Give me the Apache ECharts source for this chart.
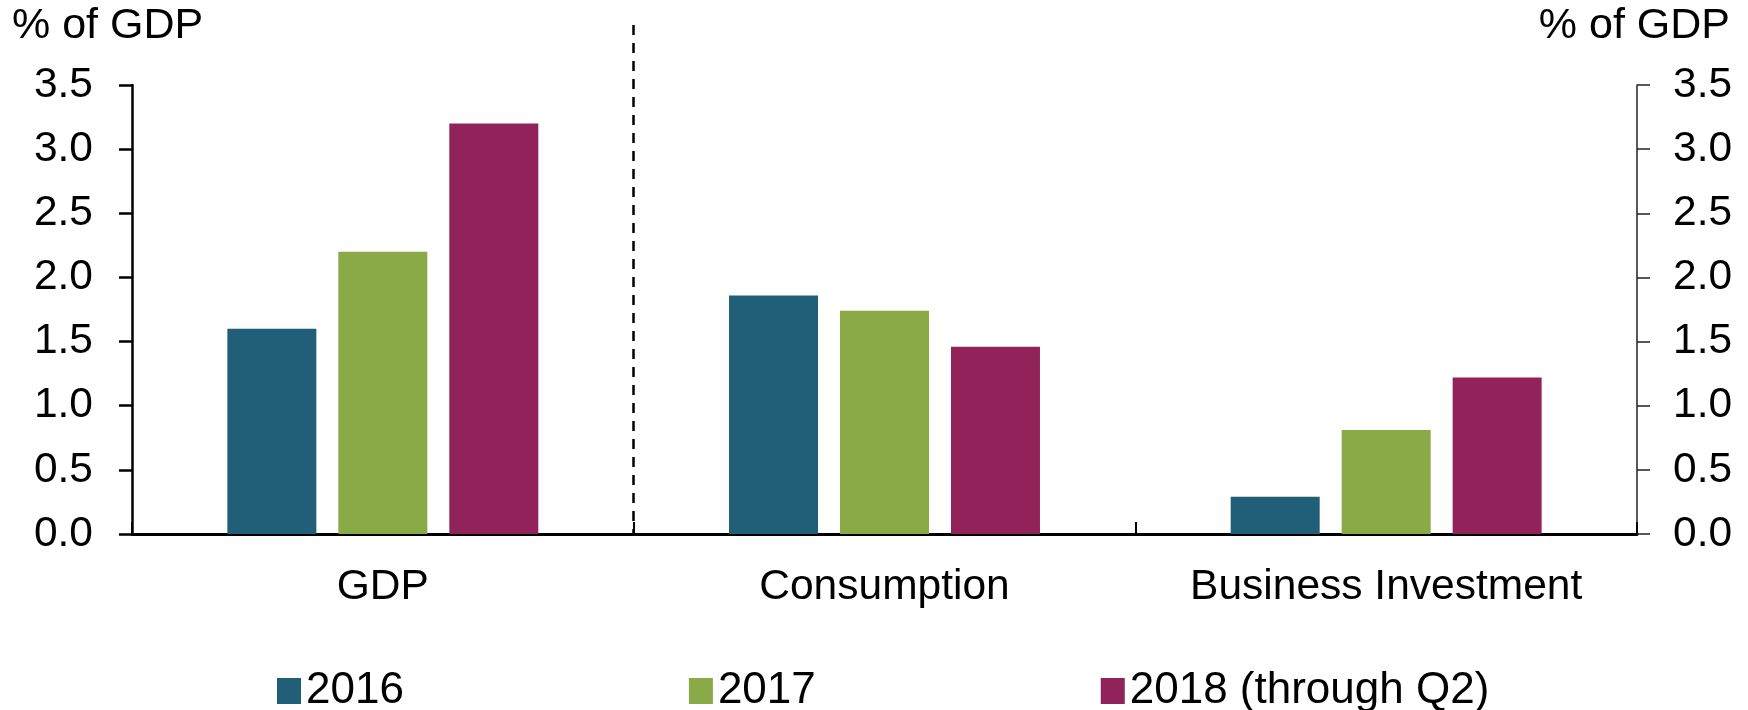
<!DOCTYPE html>
<html>
<head>
<meta charset="utf-8">
<script src="https://cdn.jsdelivr.net/npm/echarts@6/dist/echarts.min.js"></script>
<style>
  html, body { margin: 0; padding: 0; background: #ffffff; }
  #chart { width: 1748px; height: 710px; }
</style>
</head>
<body>
<div id="chart"></div>
<script>
// Contributions, % of GDP
const categories = ['GDP', 'Consumption', 'Business Investment'];
const seriesNames = ['2016', '2017', '2018 (through Q2)'];
const values2016 = [1.6, 1.86, 0.29];
const values2017 = [2.2, 1.74, 0.81];
const values2018 = [3.2, 1.46, 1.22];
const yTicks = [0, 0.5, 1.0, 1.5, 2.0, 2.5, 3.0, 3.5];
const unitLabel = '% of GDP';

const colors = ['#215E78', '#89AA46', '#92225A'];
const FONT = '"Liberation Sans", Arial, Helvetica, sans-serif';
const FS = 42.5;

const chart = echarts.init(document.getElementById('chart'), null, { renderer: 'canvas' });

function yAxisFor(position, margin, width, color) {
  return {
    type: 'value',
    position: position,
    min: yTicks[0],
    max: yTicks[yTicks.length - 1],
    interval: yTicks[1] - yTicks[0],
    axisLine: { show: true, lineStyle: { color: color, width: width } },
    axisTick: { show: true, inside: false, length: 13, lineStyle: { color: color, width: width } },
    splitLine: { show: false },
    axisLabel: {
      margin: margin,
      color: '#000',
      fontFamily: FONT,
      fontSize: FS,
      formatter: v => v.toFixed(1)
    }
  };
}

const option = {
  animation: false,
  backgroundColor: '#ffffff',
  color: colors,
  textStyle: { fontFamily: FONT },
  title: [
    { text: unitLabel, left: 7, top: 0,
      textStyle: { fontFamily: FONT, fontSize: 43, fontWeight: 'normal', color: '#000' } },
    { text: unitLabel, right: 13, top: 0,
      textStyle: { fontFamily: FONT, fontSize: 43, fontWeight: 'normal', color: '#000' } }
  ],
  grid: { left: 132, right: 111, top: 85, bottom: 176, containLabel: false },
  legend: {
    left: 272,
    top: 664,
    itemWidth: 24,
    itemHeight: 26,
    itemGap: 285,
    icon: 'rect',
    textStyle: { fontFamily: FONT, fontSize: 44, color: '#000' },
    data: seriesNames
  },
  xAxis: {
    type: 'category',
    data: categories,
    axisLine: { show: true, onZero: false, lineStyle: { color: '#000', width: 3 } },
    axisTick: { show: true, inside: true, length: 12, lineStyle: { color: '#000', width: 2 } },
    axisLabel: { interval: 0, margin: 32, color: '#000', fontFamily: FONT, fontSize: FS }
  },
  yAxis: [
    yAxisFor('left', 39, 2.5, '#000'),
    yAxisFor('right', 36, 1.5, '#222')
  ],
  series: [
    { name: seriesNames[0], type: 'bar', data: values2016, barWidth: 89, barGap: '24.7%' },
    { name: seriesNames[1], type: 'bar', data: values2017, barWidth: 89, barGap: '24.7%' },
    { name: seriesNames[2], type: 'bar', data: values2018, barWidth: 89, barGap: '24.7%' }
  ]
};

chart.setOption(option);

// Dashed divider between the GDP group and its components
const cx0 = chart.convertToPixel({ xAxisIndex: 0 }, categories[0]);
const cx1 = chart.convertToPixel({ xAxisIndex: 0 }, categories[1]);
const divX = Math.round((cx0 + cx1) / 2) - 0.5;
const yBase = chart.convertToPixel({ yAxisIndex: 0 }, yTicks[0]);
const yTop = chart.convertToPixel({ yAxisIndex: 0 }, yTicks[yTicks.length - 1]) - 60;

chart.setOption({
  graphic: [{
    type: 'line',
    z: 10,
    shape: { x1: divX, y1: yTop, x2: divX, y2: yBase },
    style: { stroke: '#000', lineWidth: 2.5, lineDash: [10, 8] }
  }]
});
</script>
</body>
</html>
